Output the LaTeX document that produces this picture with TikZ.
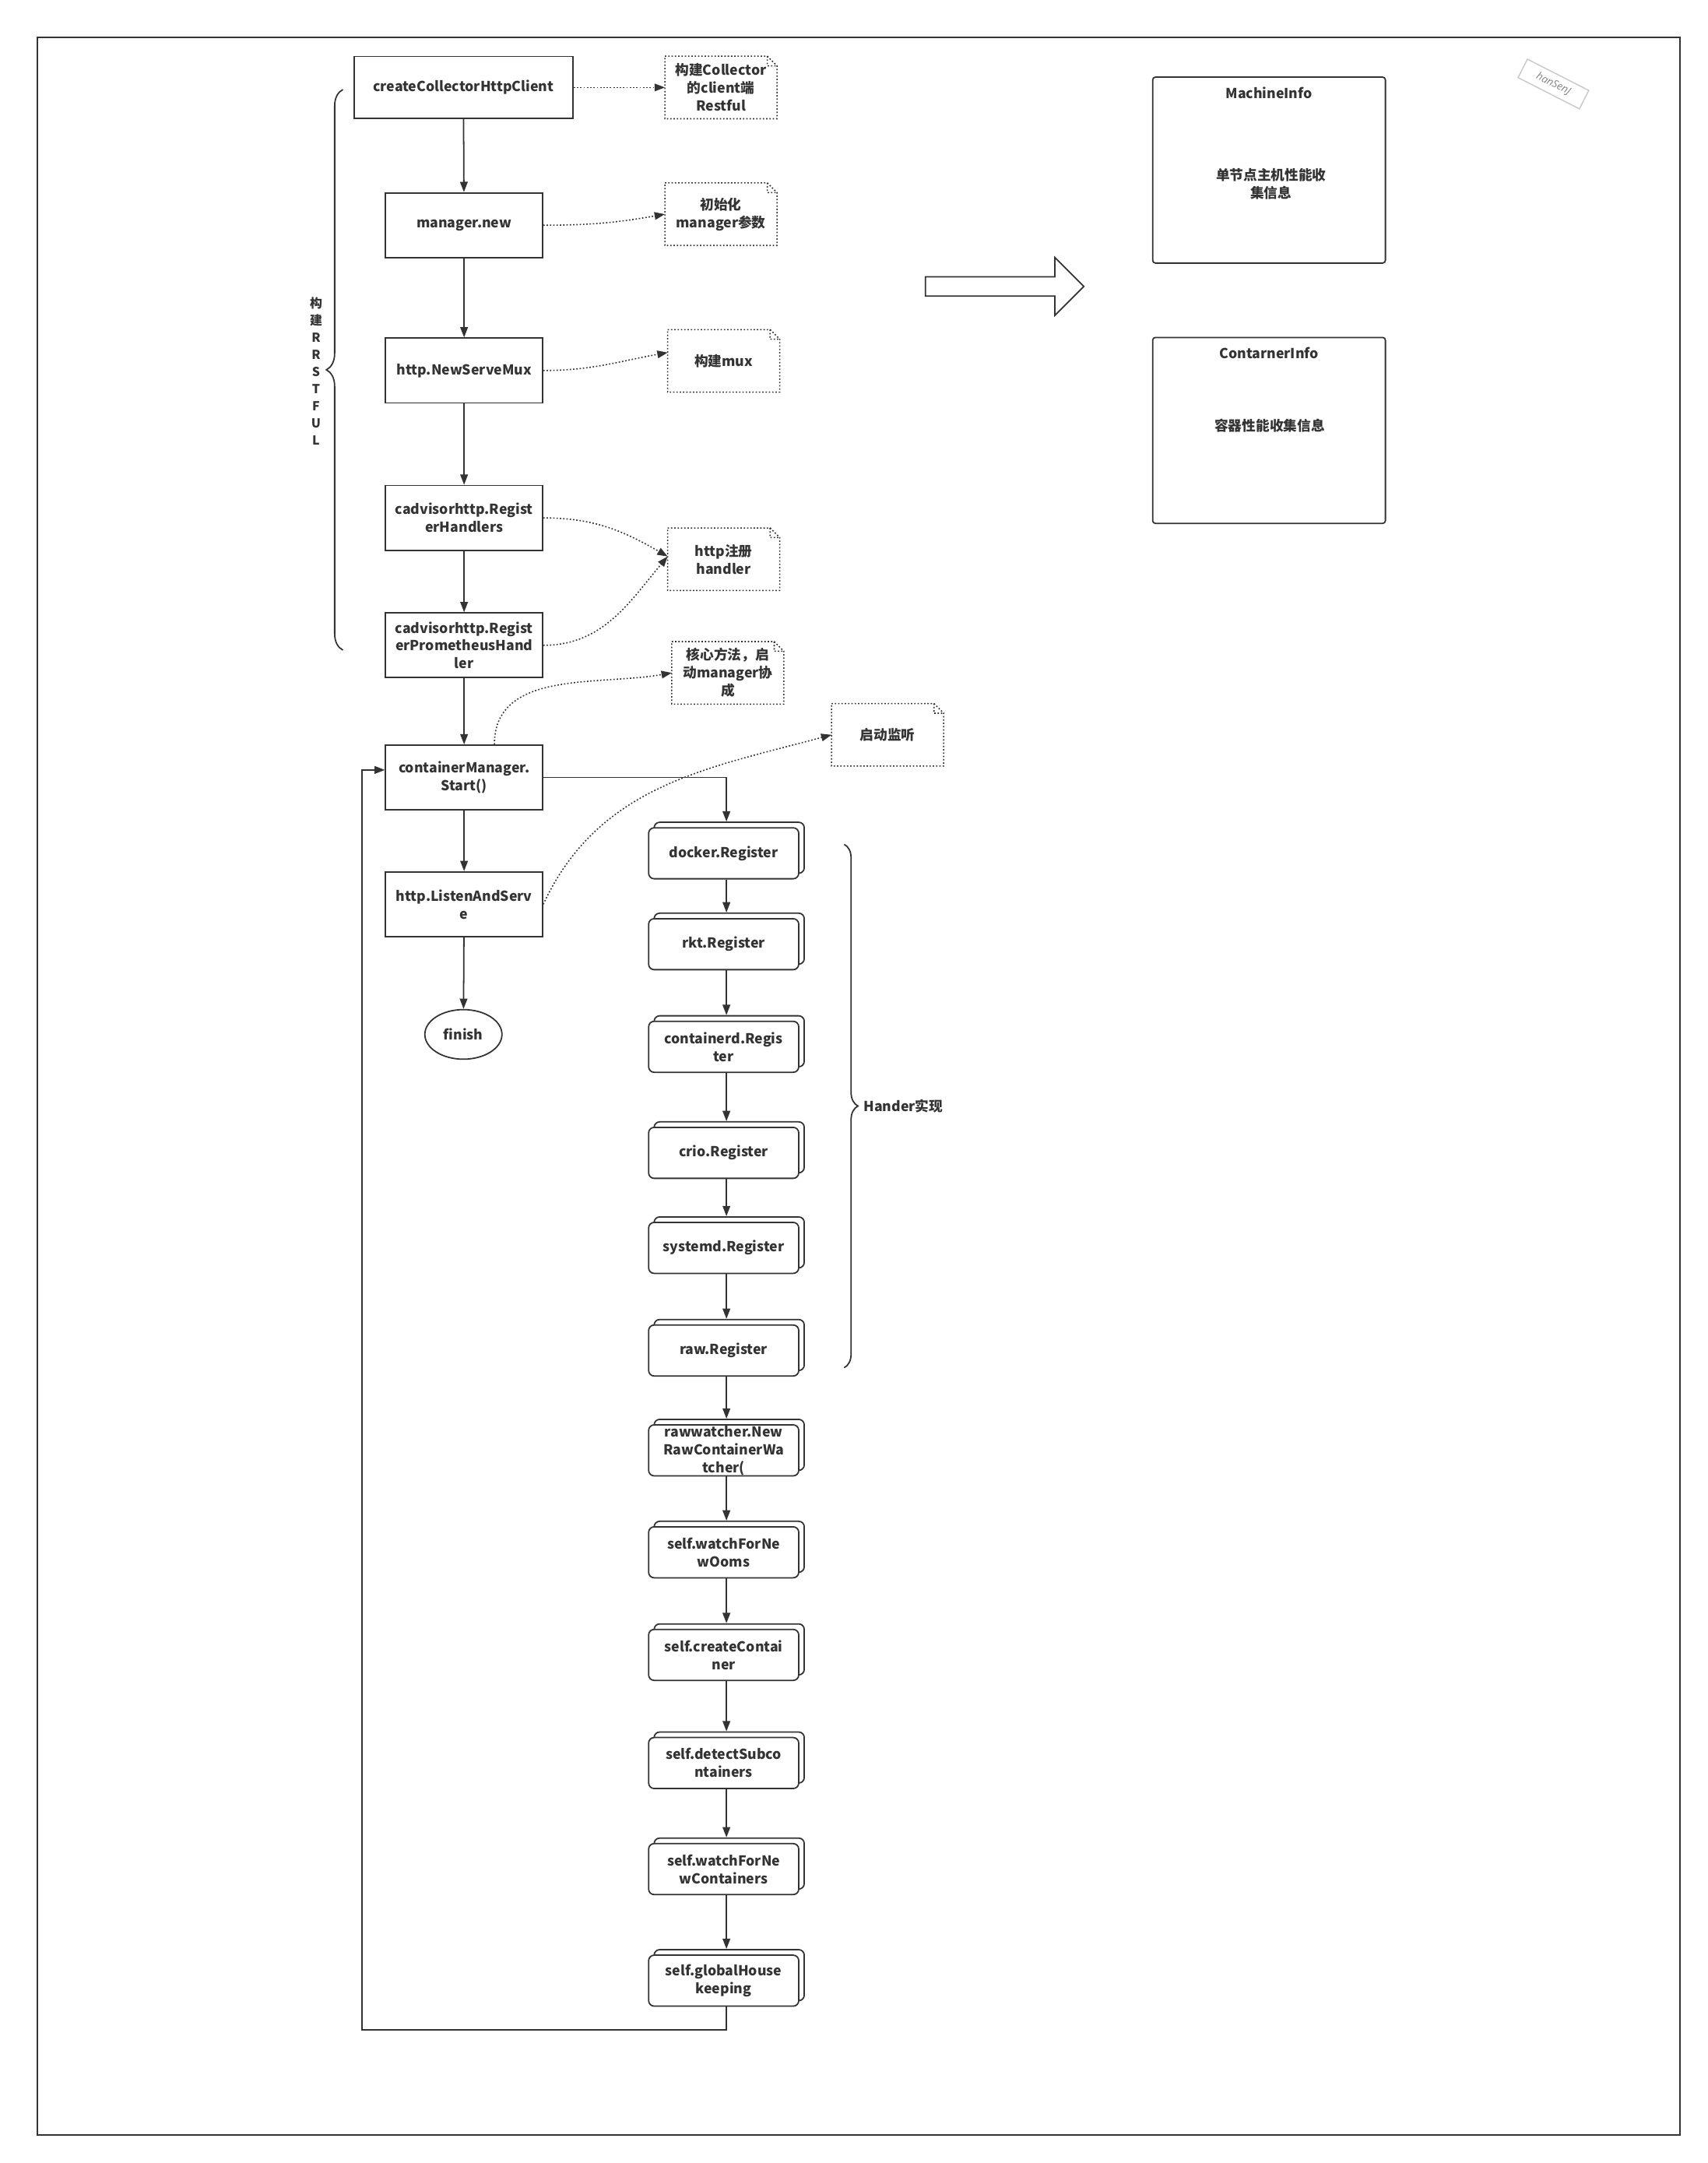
\documentclass[tikz,border=0pt]{standalone}
\usepackage{fontspec}
\usepackage{tikz}
\usetikzlibrary{positioning,arrows.meta,shadows,shapes.geometric,decorations.pathreplacing}
\newfontfamily\cjk{Noto Sans CJK SC}
\newfontfamily\wide{Open Sans}
\definecolor{linegray}{HTML}{333333}
\definecolor{markgray}{HTML}{C8C8C8}

% dotted note with a folded corner
\newcommand{\notefold}[1]{%
  \draw[notelines] (#1.north west) -- ([xshift=-7pt]#1.north east) -- ([yshift=-7pt]#1.north east) -- (#1.south east) -- (#1.south west) -- cycle
    ([xshift=-7pt]#1.north east) |- ([yshift=-7pt]#1.north east);}

\begin{document}
\begin{tikzpicture}
[x=1pt, y=-1pt,
stepnode/.style={rectangle, draw=linegray, line width=1pt, minimum width=114pt, minimum height=47pt, inner sep=0pt, align=center, text=linegray, font=\cjk\bfseries\fontsize{10}{13}\selectfont},
regnode/.style={rectangle, rounded corners=4pt, draw=linegray, fill=white, line width=1pt, minimum width=109pt, minimum height=37pt, inner sep=0pt, align=center, text=linegray, font=\cjk\bfseries\fontsize{10}{13}\selectfont, copy shadow={shadow xshift=4pt, shadow yshift=4pt, draw=linegray, fill=white, line width=1pt}},
notenode/.style={minimum width=81pt, minimum height=45pt, inner sep=0pt, align=center, text=linegray, font=\cjk\bfseries\fontsize{10}{13}\selectfont},
notelines/.style={draw=linegray, line width=0.9pt, dash pattern=on 1pt off 1.4pt},
infobox/.style={rectangle, rounded corners=2pt, draw=linegray, line width=1pt, minimum width=169pt, minimum height=135pt},
infotext/.style={align=center, text=linegray, font=\cjk\bfseries\fontsize{10}{13}\selectfont},
arr/.style={-{Triangle[length=7.5pt,width=5.5pt]}, draw=linegray, line width=1pt},
dotarr/.style={-{Triangle[length=7.5pt,width=5.5pt]}, draw=linegray, line width=0.9pt, dash pattern=on 1pt off 1.4pt},
bracket/.style={decorate, decoration={brace, amplitude=12pt}, draw=linegray, line width=1pt},
]
\useasboundingbox (0,0) rectangle (1240.2,1570.4);
\draw[linegray, line width=1pt] (27,27) rectangle (1220,1550);

% main flow
\node[stepnode, minimum width=159pt, minimum height=45pt] (client) at (336.5,63.5) {createCollectorHttpClient};
\node[stepnode] (mgrnew) at (337,163.5) {manager.new};
\node[stepnode] (mux) at (337,269) {http.NewServeMux};
\node[stepnode] (reghandlers) at (337,376) {cadvisorhttp.Regist\\erHandlers};
\node[stepnode] (promhandler) at (337,468.5) {cadvisorhttp.Regist\\erPrometheusHand\\ler};
\node[stepnode] (start) at (337,564.5) {containerManager.\\Start()};
\node[stepnode] (listen) at (337,656.5) {http.ListenAndServ\\e};
\node[ellipse, draw=linegray, line width=1pt, minimum width=56pt, minimum height=36pt, inner sep=0pt, text=linegray, font=\cjk\bfseries\fontsize{10}{13}\selectfont] (finish) at (336.5,751) {finish};

\draw[arr] (client) -- (mgrnew);
\draw[arr] (mgrnew) -- (mux);
\draw[arr] (mux) -- (reghandlers);
\draw[arr] (reghandlers) -- (promhandler);
\draw[arr] (promhandler) -- (start);
\draw[arr] (start) -- (listen);
\draw[arr] (listen) -- (finish);

% notes
\node[notenode] (note1) at (523.5,63.5) {构建Collector\\的client端\\Restful};
\node[notenode] (note2) at (523.5,155.5) {初始化\\manager参数};
\node[notenode] (note3) at (525.5,262) {构建mux};
\node[notenode] (note4) at (525.5,406) {http注册\\handler};
\node[notenode] (note5) at (528.5,488.5) {核心方法，启\\动manager协\\成};
\node[notenode] (note6) at (644.5,533.5) {启动监听};
\notefold{note1}
\notefold{note2}
\notefold{note3}
\notefold{note4}
\notefold{note5}
\notefold{note6}

\draw[dotarr] (client.east) -- (note1.west);
\draw[dotarr] (mgrnew.east) to[out=0,in=190] (note2.west);
\draw[dotarr] (mux.east) to[out=0,in=190] ([yshift=6pt]note3.west);
\draw[dotarr] (reghandlers.east) to[out=0,in=150] ([yshift=2pt]note4.west);
\draw[dotarr] (promhandler.east) to[out=0,in=230] ([yshift=2pt]note4.west);
\draw[dotarr] ([xshift=22pt]start.north) to[out=90,in=190] (note5.west);
\draw[dotarr] (listen.east) to[out=65,in=195] (note6.west);

% register chain
\node[regnode] (docker) at (525.5,619.5) {docker.Register};
\node[regnode] (rkt) at (525.5,685.5) {rkt.Register};
\node[regnode] (containerd) at (525.5,760) {containerd.Regis\\ter};
\node[regnode] (crio) at (525.5,837) {crio.Register};
\node[regnode] (systemd) at (525.5,906) {systemd.Register};
\node[regnode] (raw) at (525.5,980.5) {raw.Register};
\node[regnode] (rawwatcher) at (525.5,1053) {rawwatcher.New\\RawContainerWa\\tcher(};
\node[regnode] (ooms) at (525.5,1127) {self.watchForNe\\wOoms};
\node[regnode] (create) at (525.5,1201.5) {self.createContai\\ner};
\node[regnode] (detect) at (525.5,1280) {self.detectSubco\\ntainers};
\node[regnode] (watchnew) at (525.5,1357) {self.watchForNe\\wContainers};
\node[regnode] (house) at (525.5,1438) {self.globalHouse\\keeping};

\draw[arr] (start.east) -| ([xshift=2pt,yshift=4pt]docker.north);
\draw[arr] ([xshift=2pt]docker.south) -- ([xshift=2pt,yshift=4pt]rkt.north);
\draw[arr] ([xshift=2pt]rkt.south) -- ([xshift=2pt,yshift=4pt]containerd.north);
\draw[arr] ([xshift=2pt]containerd.south) -- ([xshift=2pt,yshift=4pt]crio.north);
\draw[arr] ([xshift=2pt]crio.south) -- ([xshift=2pt,yshift=4pt]systemd.north);
\draw[arr] ([xshift=2pt]systemd.south) -- ([xshift=2pt,yshift=4pt]raw.north);
\draw[arr] ([xshift=2pt]raw.south) -- ([xshift=2pt,yshift=4pt]rawwatcher.north);
\draw[arr] ([xshift=2pt]rawwatcher.south) -- ([xshift=2pt,yshift=4pt]ooms.north);
\draw[arr] ([xshift=2pt]ooms.south) -- ([xshift=2pt,yshift=4pt]create.north);
\draw[arr] ([xshift=2pt]create.south) -- ([xshift=2pt,yshift=4pt]detect.north);
\draw[arr] ([xshift=2pt]detect.south) -- ([xshift=2pt,yshift=4pt]watchnew.north);
\draw[arr] ([xshift=2pt]watchnew.south) -- ([xshift=2pt,yshift=4pt]house.north);

% back to start
\coordinate (loopcorner) at (263,1473.5);
\draw[arr] ([xshift=2pt]house.south) |- (loopcorner) |- ([yshift=5.5pt]start.west);

% braces
\draw[bracket] (249,472) -- (249,65);
\node[align=center, text=linegray, font=\cjk\bfseries\fontsize{9}{12.4}\selectfont] (buildlabel) at (229.5,269.5) {构\\建\\R\\R\\S\\T\\F\\U\\L};
\draw[bracket, decoration={amplitude=10pt}] (613,613) -- (613,993);
\node[anchor=west, inner sep=0pt, text=linegray, font=\cjk\bfseries\fontsize{10}{13}\selectfont] (handerlabel) at (627,803) {Hander实现};

% right side
\draw[draw=linegray, line width=1pt, fill=white] (672,201) -- (766,201) -- (766,187) -- (787,208) -- (766,229) -- (766,215) -- (672,215) -- cycle;
\node[infobox] (machine) at (921.5,123.5) {};
\node[infotext, below=4pt of machine.north] (machinetitle) {MachineInfo};
\node[infotext] (machinetext) at (923,133.5) {单节点主机性能收\\集信息};
\node[infobox] (contarner) at (921.5,312.5) {};
\node[infotext, below=4pt of contarner.north] (contarnertitle) {ContarnerInfo};
\node[infotext] (contarnertext) at (922,309) {容器性能收集信息};

% watermark
\node[draw=markgray, line width=0.8pt, rotate=-27, minimum width=50pt, minimum height=15pt, inner sep=1pt, text=gray, font=\wide\itshape\fontsize{7.5}{9}\selectfont] (mark) at (1128,61) {hanSenJ};
\end{tikzpicture}
\end{document}
